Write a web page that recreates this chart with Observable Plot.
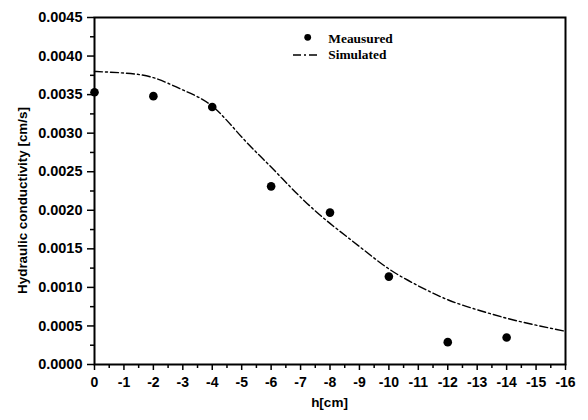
<!DOCTYPE html>
<html>
<head>
<meta charset="utf-8">
<script src="https://cdn.jsdelivr.net/npm/d3@7"></script>
<script src="https://cdn.jsdelivr.net/npm/@observablehq/plot@0.6"></script>
<style>
  html, body { margin: 0; padding: 0; background: #fff; }
  #chart svg { display: block; }
  #chart svg text { font-weight: bold; fill: #000; }
</style>
</head>
<body>
<div id="chart"></div>
<script>
// Measured data
const measuredH = [0, -2, -4, -6, -8, -10, -12, -14];
const measuredK = [0.00353, 0.00348, 0.00334, 0.00231, 0.00197, 0.00114, 0.00029, 0.00035];

// Simulated curve
const simH = [0, -1, -2, -3, -4, -5, -6, -7, -8, -9, -10, -11, -12, -13, -14, -15, -16];
const simK = [0.00380, 0.00378, 0.00372, 0.00356, 0.00335, 0.00295, 0.00256, 0.00217, 0.00183, 0.00153, 0.00124, 0.00102, 0.00084, 0.00071, 0.00060, 0.00051, 0.00043];

const xTicks = d3.range(0, -17, -1);
const xMinor = d3.range(-0.5, -16, -1);
const yTicks = d3.range(0, 0.00451, 0.0005);
const yMinor = d3.range(0.00025, 0.0045, 0.0005);

const measured = measuredH.map((h, i) => ({h, k: measuredK[i]}));
const simulated = simH.map((h, i) => ({h, k: simK[i]}));

const W = 588, H = 420;
const chart = Plot.plot({
  width: W,
  height: H,
  marginLeft: 94,
  marginRight: 23,
  marginTop: 17,
  marginBottom: 56,
  style: {fontFamily: "'Liberation Sans', Arial, sans-serif", fontWeight: "bold", fontSize: "14px", color: "#000", background: "#fff"},
  x: {domain: [0, -16], label: null},
  y: {domain: [0, 0.0045], label: null},
  marks: [
    Plot.axisX({ticks: xMinor, tickSize: 4, text: null, strokeWidth: 1.5, label: null}),
    Plot.axisX({ticks: xTicks, tickSize: 6, tickPadding: 7, tickFormat: d => d === 0 ? "0" : String(d), strokeWidth: 1.5, label: null, fontSize: 14}),
    Plot.axisY({ticks: yMinor, tickSize: 4, text: null, strokeWidth: 1.5, label: null}),
    Plot.axisY({ticks: yTicks, tickSize: 7, tickPadding: 5, tickFormat: d3.format(".4f"), strokeWidth: 1.5, label: null, fontSize: 14.5}),
    Plot.line(simulated, {x: "h", y: "k", curve: "natural", stroke: "#000", strokeWidth: 1.4, strokeDasharray: "8,3,2,3"}),
    Plot.dot(measured, {x: "h", y: "k", r: 4.3, fill: "#000", stroke: "none"}),
    Plot.frame({stroke: "#000", strokeWidth: 2})
  ]
});
document.getElementById("chart").appendChild(chart);

const svg = d3.select(chart);
// Axis titles
svg.append("text")
  .attr("x", 329.5).attr("y", 406.5)
  .attr("text-anchor", "middle")
  .style("font-family", "'Liberation Sans', Arial, sans-serif")
  .style("font-size", "13.5px")
  .text("h[cm]");
svg.append("text")
  .attr("transform", "translate(26.5,200.5) rotate(-90)")
  .attr("text-anchor", "middle")
  .style("font-family", "'Liberation Sans', Arial, sans-serif")
  .style("font-size", "13.4px")
  .text("Hydraulic conductivity [cm/s]");

// Legend
const lg = svg.append("g").style("font-family", "'Liberation Serif', 'Times New Roman', serif")
  .style("font-size", "13.4px").attr("text-anchor", "start");
lg.append("circle").attr("cx", 307.7).attr("cy", 37.3).attr("r", 3.4).attr("fill", "#000");
lg.append("text").attr("x", 328.3).attr("y", 43).attr("text-anchor", "start").text("Meausured");
lg.append("line").attr("x1", 293).attr("x2", 320).attr("y1", 55).attr("y2", 55)
  .attr("stroke", "#000").attr("stroke-width", 1.4).attr("stroke-dasharray", "8,3,2,3");
lg.append("text").attr("x", 328.3).attr("y", 59.3).attr("text-anchor", "start").text("Simulated");
</script>
</body>
</html>
